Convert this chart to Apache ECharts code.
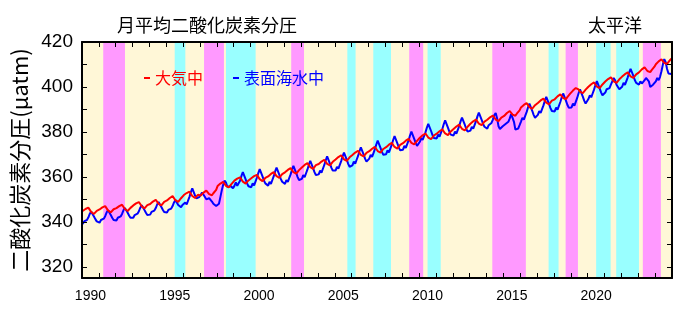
<!DOCTYPE html>
<html>
<head>
<meta charset="utf-8">
<script src="https://cdn.jsdelivr.net/npm/echarts@6.0.0/dist/echarts.min.js"></script>
<style>
  html, body { margin: 0; padding: 0; background: #fff; }
  #chart { width: 684px; height: 314px; }
</style>
</head>
<body>
<div id="chart"></div>
<script>
// 月平均値 1990年1月〜2024年12月 (μatm)
const startYear = 1990

const atmosphere = [
  344.8,345.2,345.7,346.2,346.3,345.5,344.4,343.6,343.5,344.2,344.9,345.4,
  345.5,345.9,346.4,346.9,347.0,346.2,345.1,344.3,344.2,344.9,345.6,346.1,
  346.1,346.5,347.0,347.5,347.6,346.8,345.7,344.9,344.8,345.5,346.2,346.7,
  347.3,347.7,348.2,348.7,348.8,348.0,346.9,346.1,346.0,346.7,347.4,347.9,
  347.9,348.5,349.0,349.6,349.8,349.0,348.0,347.4,347.3,348.1,348.9,349.4,
  349.5,350.1,350.6,351.2,351.4,350.6,349.6,349.0,348.9,349.7,350.5,351.0,
  351.9,352.3,352.8,353.3,353.4,352.6,351.5,350.7,350.6,351.3,352.0,352.5,
  351.7,352.4,353.0,353.7,353.9,353.3,352.3,351.8,351.8,352.7,353.5,354.2,
  355.9,356.5,357.0,357.6,357.8,357.0,356.0,355.4,355.3,356.1,356.9,357.4,
  358.3,358.7,359.2,359.7,359.8,359.0,357.9,357.1,357.0,357.7,358.4,358.9,
  359.4,359.8,360.3,360.8,360.9,360.1,359.0,358.2,358.1,358.8,359.5,360.0,
  360.2,360.8,361.3,361.9,362.1,361.3,360.3,359.7,359.6,360.4,361.2,361.7,
  362.0,362.6,363.1,363.7,363.9,363.1,362.1,361.5,361.4,362.2,363.0,363.5,
  364.2,364.8,365.3,365.9,366.1,365.3,364.3,363.7,363.6,364.4,365.2,365.7,
  365.7,366.3,366.8,367.4,367.6,366.8,365.8,365.2,365.1,365.9,366.7,367.2,
  367.7,368.3,368.8,369.4,369.6,368.8,367.8,367.2,367.1,367.9,368.7,369.2,
  369.7,370.3,370.8,371.4,371.6,370.8,369.8,369.2,369.1,369.9,370.7,371.2,
  371.4,372.0,372.5,373.1,373.3,372.5,371.5,370.9,370.8,371.6,372.4,372.9,
  373.2,373.8,374.3,374.9,375.1,374.3,373.3,372.7,372.6,373.4,374.2,374.7,
  375.0,375.6,376.1,376.7,376.9,376.1,375.1,374.5,374.4,375.2,376.0,376.5,
  377.4,378.0,378.5,379.1,379.3,378.5,377.5,376.9,376.8,377.6,378.4,378.9,
  379.2,379.8,380.3,380.9,381.1,380.3,379.3,378.7,378.6,379.4,380.2,380.7,
  381.3,381.9,382.4,383.0,383.2,382.4,381.4,380.8,380.7,381.5,382.3,382.8,
  383.6,384.2,384.7,385.3,385.5,384.7,383.7,383.1,383.0,383.8,384.6,385.1,
  385.4,386.0,386.5,387.1,387.3,386.5,385.5,384.9,384.8,385.6,386.4,386.9,
  387.1,387.8,388.4,389.1,389.3,388.7,387.7,387.2,387.2,388.1,388.9,389.6,
  390.9,391.5,392.0,392.6,392.8,392.0,391.0,390.4,390.3,391.1,391.9,392.4,
  392.9,393.5,394.0,394.6,394.8,394.0,393.0,392.4,392.3,393.1,393.9,394.4,
  394.5,395.2,395.8,396.5,396.7,396.1,395.1,394.6,394.6,395.5,396.3,397.0,
  397.8,398.4,398.9,399.5,399.7,398.9,397.9,397.3,397.2,398.0,398.8,399.3,
  400.1,400.7,401.2,401.8,402.0,401.2,400.2,399.6,399.5,400.3,401.1,401.6,
  402.4,403.0,403.5,404.1,404.3,403.5,402.5,401.9,401.8,402.6,403.4,403.9,
  404.6,405.2,405.7,406.3,406.5,405.7,404.7,404.1,404.0,404.8,405.6,406.1,
  406.5,407.2,407.8,408.5,408.7,408.1,407.1,406.6,406.6,407.5,408.3,409.0,
  410.1,410.8,411.4,412.1,412.3,411.7,410.7,410.2,410.2,411.1,411.9,412.6
]

const seawater = [
  339.0,340.2,339.6,340.8,341.9,343.5,344.6,344.1,342.4,341.2,340.2,340.0,
  339.6,340.8,340.2,341.4,342.5,344.1,345.2,344.7,343.0,341.8,340.8,340.6,
  340.6,341.8,341.2,342.4,343.5,345.1,346.2,345.7,344.0,342.8,341.8,341.6,
  341.8,343.0,342.4,343.6,344.7,346.3,347.4,346.9,345.2,344.0,343.0,342.8,
  343.2,344.4,343.8,345.0,346.1,347.7,348.8,348.3,346.6,345.4,344.4,344.2,
  344.1,345.3,344.7,345.9,347.0,348.6,349.7,349.2,347.5,346.8,346.5,347.5,
  346.9,348.6,347.7,349.4,351.1,353.2,354.9,354.1,351.7,350.5,350.2,351.0,
  351.5,353.0,352.0,351.0,350.0,349.5,350.5,351.0,349.0,348.0,347.5,347.0,
  346.5,348.0,351.0,354.0,356.5,358.4,357.5,355.5,354.7,356.0,355.5,355.0,
  356.0,357.6,356.0,356.6,358.3,360.4,362.1,361.3,358.9,357.1,355.8,355.4,
  355.4,357.1,356.2,357.9,359.6,361.7,363.4,362.6,360.2,358.4,357.1,356.7,
  356.1,357.8,356.9,358.6,360.3,362.4,364.1,363.3,360.9,359.1,357.8,357.4,
  356.9,358.6,357.7,359.4,361.1,363.2,364.9,364.1,361.7,359.9,358.6,358.2,
  359.1,360.8,359.9,361.6,363.3,365.4,367.1,366.3,363.9,362.1,360.8,360.4,
  361.1,362.8,361.9,363.6,365.3,367.4,369.1,368.3,365.9,364.1,362.8,362.4,
  362.8,364.5,363.6,365.3,367.0,369.1,370.8,370.0,367.6,365.8,364.5,364.1,
  365.1,366.8,365.9,367.6,369.3,371.4,373.1,372.3,369.9,368.1,366.8,366.4,
  368.1,369.8,368.9,370.6,372.3,374.4,376.1,375.3,372.9,371.1,369.8,369.4,
  370.1,371.8,370.9,372.6,374.3,376.4,378.1,377.3,374.9,373.1,371.8,371.4,
  372.1,373.8,372.9,374.6,376.3,378.4,380.1,379.3,376.9,375.1,373.8,373.4,
  375.6,377.3,376.4,378.1,379.8,381.9,383.6,382.8,380.4,378.6,377.3,376.9,
  377.1,378.8,377.9,379.6,381.3,383.4,385.1,384.3,381.9,380.1,378.8,378.4,
  378.4,380.1,379.2,380.9,382.6,384.7,386.4,385.6,383.2,381.4,380.1,379.7,
  380.6,382.3,381.4,383.1,384.8,386.9,388.6,387.8,385.4,383.6,382.3,381.9,
  381.5,383.0,382.5,384.0,385.5,387.5,388.4,386.0,382.5,381.3,382.0,382.5,
  382.0,383.5,383.0,384.5,386.0,388.0,387.5,384.5,381.0,380.3,381.5,383.0,
  384.6,386.3,385.4,387.1,388.8,390.9,392.6,391.8,389.4,387.6,386.3,385.9,
  387.6,389.3,388.4,390.1,391.8,393.9,395.6,394.8,392.4,390.6,389.3,388.9,
  389.1,390.8,389.9,391.6,393.3,395.4,397.1,396.3,393.9,392.1,390.8,390.4,
  390.9,392.6,391.7,393.4,395.1,397.2,398.9,398.1,395.7,393.9,392.6,392.2,
  394.6,396.3,395.4,397.1,398.8,400.9,402.6,401.8,399.4,397.6,396.3,395.9,
  397.5,399.0,398.5,399.5,401.0,402.5,404.0,403.0,401.0,400.0,399.0,399.0,
  400.1,401.8,400.9,402.6,404.3,406.4,408.1,407.3,404.9,403.1,401.8,401.4,
  401.0,402.5,401.5,402.0,403.0,404.0,404.5,402.5,400.0,400.5,401.0,400.5,
  402.5,404.0,403.0,404.5,407.0,410.0,412.4,411.0,408.0,406.0,405.5,405.8
]

// エルニーニョ / ラニーニャ期間 (年の小数表記)
const elNino = [
  [1991.26, 1992.55], [1997.24, 1998.42], [2002.41, 2003.17], [2009.41, 2010.24],
  [2014.34, 2016.33], [2018.69, 2019.42], [2023.27, 2024.34]
]
const laNina = [
  [1995.5, 1996.13], [1998.54, 2000.3], [2005.74, 2006.23], [2007.28, 2008.33],
  [2010.5, 2011.28], [2017.68, 2018.27], [2020.5, 2021.36], [2021.69, 2023.04]
]

const xLabelYears = [1990, 1995, 2000, 2005, 2010, 2015, 2020]
const yTicks = [320, 330, 340, 350, 360, 370, 380, 390, 400, 410, 420]
const yLabels = [320, 340, 360, 380, 400, 420]

const jaFont = '"Noto Sans CJK JP", sans-serif'
const numFont = '"Liberation Sans", Arial, sans-serif'

const toPoints = arr => arr.map((v, i) => [startYear + (i + 0.5) / 12, v])
const xTicks = []
for (let y = 1991; y < 2025; y++) xTicks.push(y)

const bands = [
  ...elNino.map(([s, e]) => [{ xAxis: s, itemStyle: { color: '#ff99ff' } }, { xAxis: e }]),
  ...laNina.map(([s, e]) => [{ xAxis: s, itemStyle: { color: '#99ffff' } }, { xAxis: e }]),
]

const xBase = {
  type: 'value', min: 1990, max: 2025, z: 10,
  axisLine: { show: true, onZero: false, lineStyle: { color: '#000', width: 2 } },
  axisTick: { show: true, inside: true, length: 5, customValues: xTicks, lineStyle: { color: '#000' } },
  splitLine: { show: false },
}
const yBase = {
  type: 'value', min: 315, max: 420, z: 10,
  axisLine: { show: true, onZero: false, lineStyle: { color: '#000', width: 2 } },
  axisTick: { show: true, inside: true, length: 5, customValues: yTicks, lineStyle: { color: '#000' } },
  splitLine: { show: false },
}

const chart = echarts.init(document.getElementById('chart'))
chart.setOption({
  animation: false,
  title: [
    { text: '月平均二酸化炭素分圧', left: 112, top: 11,
      textStyle: { fontSize: 18, fontWeight: 'normal', color: '#000', fontFamily: jaFont } },
    { text: '太平洋', left: 583, top: 11,
      textStyle: { fontSize: 18, fontWeight: 'normal', color: '#000', fontFamily: jaFont } },
  ],
  legend: {
    left: 139, top: 65, itemWidth: 6, itemHeight: 2, itemGap: 30,
    textStyle: { fontSize: 16, fontFamily: jaFont },
    data: [
      { name: '大気中', icon: 'rect', textStyle: { color: '#ff0000' } },
      { name: '表面海水中', icon: 'rect', textStyle: { color: '#0000ff' } },
    ],
  },
  grid: { left: 82, right: 12, top: 42, bottom: 36, show: true, backgroundColor: '#fff7d7', borderWidth: 0 },
  xAxis: [
    { ...xBase, position: 'bottom',
      axisLabel: { customValues: xLabelYears.map(y => y + 0.5), formatter: v => String(Math.floor(v)),
        fontSize: 14, color: '#000', margin: 11, fontFamily: numFont } },
    { ...xBase, position: 'top', axisLabel: { show: false } },
  ],
  yAxis: [
    { ...yBase, position: 'left',
      axisLabel: { customValues: yLabels, fontSize: 19, color: '#000', margin: 9, fontFamily: numFont },
      name: '二酸化炭素分圧(μatm)', nameLocation: 'middle', nameGap: 51,
      nameTextStyle: { fontSize: 22, color: '#000', fontFamily: jaFont } },
    { ...yBase, position: 'right', axisLabel: { show: false } },
  ],
  series: [
    { type: 'line', data: [], silent: true, z: 1, markArea: { silent: true, data: bands } },
    { name: '表面海水中', type: 'line', data: toPoints(seawater), showSymbol: false, z: 3,
      itemStyle: { color: '#0000ff' }, lineStyle: { color: '#0000ff', width: 2 } },
    { name: '大気中', type: 'line', data: toPoints(atmosphere), showSymbol: false, z: 4,
      itemStyle: { color: '#ff0000' }, lineStyle: { color: '#ff0000', width: 2 } },
  ],
})
</script>
</body>
</html>
